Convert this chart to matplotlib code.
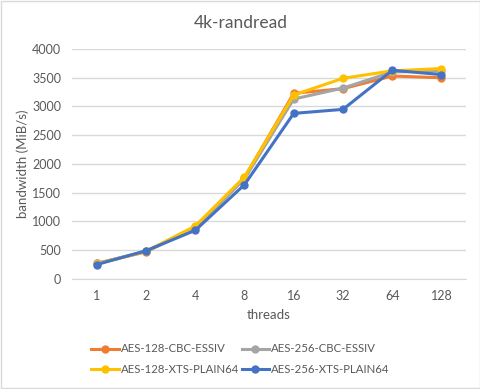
import matplotlib
matplotlib.use("Agg")
import matplotlib.pyplot as plt
from matplotlib.patches import Rectangle

plt.rcParams['font.family'] = ['Lato', 'DejaVu Sans']

threads = ["1", "2", "4", "8", "16", "32", "64", "128"]
aes128_cbc = [270, 470, 900, 1760, 3230, 3310, 3530, 3500]
aes256_cbc = [270, 480, 880, 1740, 3130, 3320, 3600, 3620]
aes128_xts = [260, 480, 920, 1775, 3200, 3490, 3620, 3660]
aes256_xts = [250, 490, 845, 1640, 2880, 2950, 3630, 3555]

series = [
    ("AES-128-CBC-ESSIV", aes128_cbc, "#ED7D31"),
    ("AES-256-CBC-ESSIV", aes256_cbc, "#A5A5A5"),
    ("AES-128-XTS-PLAIN64", aes128_xts, "#FFC000"),
    ("AES-256-XTS-PLAIN64", aes256_xts, "#4472C4"),
]

fig = plt.figure(figsize=(4.81, 3.89), dpi=100)
fig.patches.append(Rectangle((0.002, 0.003), 0.996, 0.994, transform=fig.transFigure,
                             fill=False, edgecolor="#D9D9D9", linewidth=1))
ax = fig.add_axes([0.150, 0.283, 0.819, 0.591])
x = list(range(len(threads)))
handles = {}
for name, vals, col in series:
    h, = ax.plot(x, vals, color=col, linewidth=2.2, marker="o", markersize=5, label=name)
    handles[name] = h

ax.set_xlim(-0.5, len(threads) - 0.5)
ax.set_ylim(0, 4000)
ax.set_yticks(range(0, 4001, 500))
ax.set_xticks(x)
ax.set_xticklabels(threads)
ax.grid(axis="y", color="#D9D9D9", linewidth=1)
ax.set_axisbelow(True)
for s in ["top", "right", "left"]:
    ax.spines[s].set_visible(False)
ax.spines["bottom"].set_color("#D9D9D9")
ax.tick_params(length=0, labelsize=9, colors="#595959", pad=8)
ax.set_xlabel("threads", fontsize=9.5, color="#595959", labelpad=5)
ax.set_ylabel("bandwidth (MiB/s)", fontsize=9.5, color="#595959", labelpad=2)
fig.text(0.5, 0.941, "4k-randread", ha="center", va="center", fontsize=12.5, color="#595959")

order = ["AES-128-CBC-ESSIV", "AES-128-XTS-PLAIN64", "AES-256-CBC-ESSIV", "AES-256-XTS-PLAIN64"]
leg = fig.legend([handles[n] for n in order], order, loc="center", bbox_to_anchor=(0.5, 0.077),
                 ncol=2, frameon=False, fontsize=8.2, handlelength=2.4, columnspacing=0.2,
                 handletextpad=0.2, labelspacing=0.8)
for t in leg.get_texts():
    t.set_color("#595959")

fig.savefig("out.png", dpi=100)
